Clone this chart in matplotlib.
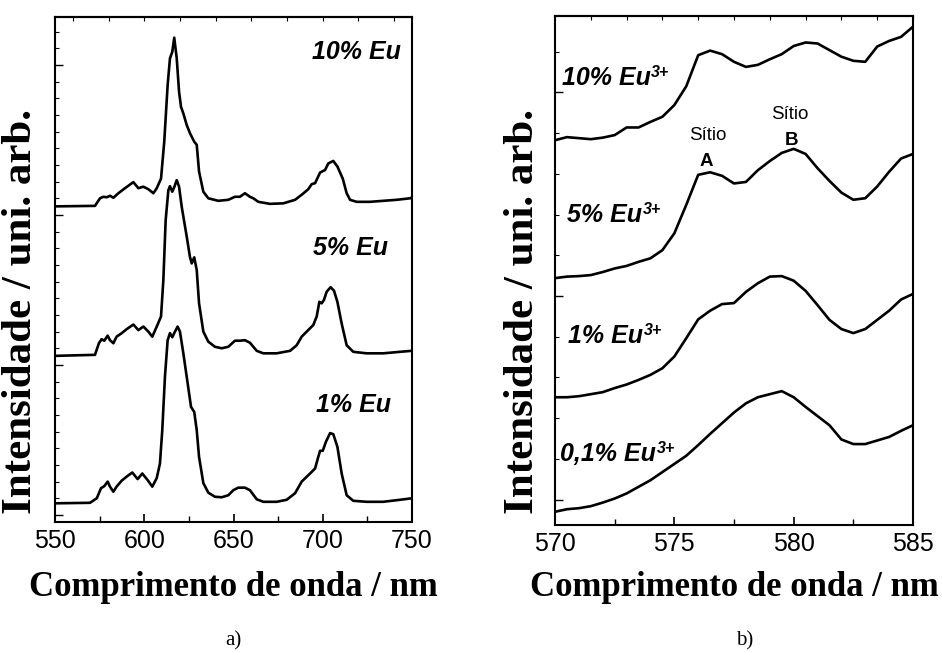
import matplotlib
matplotlib.use("Agg")
import matplotlib.pyplot as plt
from matplotlib.ticker import MultipleLocator, FixedLocator, NullFormatter

# ---------------- data: (a) full emission spectra ----------------
wl_10 = [550, 572.4, 575.2, 577.1, 579.0, 580.8, 582.7, 585.5, 589.2, 593.9, 596.7, 599.5,
         602.3, 605.1, 607.0, 609.4, 611.2, 613.1, 614.4, 615.7, 616.8, 618.2, 619.5, 620.6,
         621.9, 623.8, 625.6, 628.0, 629.4, 630.7, 633.1, 635.9, 641.5, 647.1, 650.8, 653.6,
         656.4, 659.2, 661.1, 663.9, 670.4, 677.9, 684.5, 688.2, 691.9, 693.8, 695.7, 698.5,
         701.3, 703.1, 705.9, 708.2, 711.2, 713.4, 715.3, 719.0, 726.5, 733.9, 741.4, 748.9, 750]
int_10 = [62.5, 62.6, 64.1, 64.4, 64.3, 64.6, 64.2, 65.1, 66.1, 67.3, 66.1, 66.4,
          65.9, 65.1, 66.1, 68.0, 75.3, 86.5, 91.8, 93.1, 95.9, 91.8, 85.2, 82.2,
          80.9, 78.6, 77.0, 75.3, 74.7, 69.4, 65.4, 64.1, 63.6, 63.8, 64.4, 64.4,
          65.1, 64.4, 64.1, 63.4, 63.0, 63.1, 63.8, 64.8, 65.9, 66.9, 67.1, 69.2,
          69.7, 71.0, 71.5, 70.4, 68.0, 65.1, 63.8, 63.4, 63.4, 63.6, 63.8, 64.1, 64.3]

wl_5 = [550, 572.4, 574.6, 576.1, 577.6, 579.5, 580.8, 582.7, 584.5, 587.4, 590.2, 593.9,
        596.7, 599.5, 602.3, 604.5, 607.0, 609.4, 610.7, 612.0, 613.5, 614.4, 615.7, 616.8,
        618.2, 619.5, 621.0, 623.8, 625.6, 626.6, 628.0, 629.4, 630.7, 633.1, 635.9, 639.6,
        643.4, 647.1, 650.8, 653.6, 656.4, 659.2, 663.0, 666.7, 674.2, 681.7, 685.4, 688.2,
        691.0, 694.7, 696.6, 698.1, 699.4, 700.7, 702.2, 704.4, 706.3, 708.2, 710.6, 713.4,
        717.1, 724.6, 733.9, 743.3, 750]
int_5 = [32.9, 33.1, 35.4, 36.2, 35.9, 36.9, 36.0, 35.4, 36.7, 37.4, 38.2, 39.1,
         38.0, 38.7, 37.7, 36.7, 38.7, 40.7, 47.9, 59.8, 65.7, 66.5, 65.4, 66.3,
         67.7, 66.4, 62.4, 56.5, 52.5, 51.2, 52.4, 49.9, 43.3, 37.7, 35.7, 34.7,
         34.4, 34.7, 35.9, 35.9, 36.0, 35.5, 33.9, 33.4, 33.4, 33.9, 35.0, 36.7,
         37.7, 39.0, 40.7, 43.6, 43.3, 44.0, 45.6, 46.5, 45.8, 43.6, 39.3, 35.0,
         33.7, 33.4, 33.4, 33.7, 33.9]

wl_1 = [550, 569.6, 573.4, 575.8, 577.6, 579.5, 580.8, 582.7, 584.5, 587.4, 590.2, 593.3,
        596.3, 598.9, 601.9, 604.5, 607.0, 608.8, 610.1, 611.6, 613.1, 614.4, 615.7, 617.2,
        618.7, 620.0, 621.9, 624.3, 626.2, 628.0, 629.4, 630.7, 633.1, 635.9, 639.6, 643.4,
        647.1, 649.9, 652.7, 656.4, 659.2, 663.0, 666.7, 674.2, 679.8, 684.5, 688.2, 692.9,
        695.7, 697.5, 698.5, 700.0, 701.8, 704.1, 705.9, 708.2, 710.6, 713.4, 717.1, 724.6,
        733.9, 743.3, 750]
int_1 = [3.7, 3.8, 4.7, 6.7, 7.1, 8.0, 7.0, 6.0, 7.0, 8.2, 9.0, 9.8,
         8.5, 9.6, 8.3, 7.0, 8.7, 11.6, 18.2, 28.8, 36.0, 37.4, 36.6, 37.7,
         38.7, 37.7, 33.4, 27.5, 22.8, 21.8, 18.2, 12.9, 7.7, 5.8, 5.0, 4.9,
         5.3, 6.3, 6.8, 6.8, 6.3, 4.5, 4.0, 4.0, 4.4, 5.7, 8.0, 9.6,
         10.6, 12.9, 14.1, 14.1, 15.9, 17.6, 17.4, 14.9, 9.6, 5.3, 4.2, 4.0,
         4.0, 4.4, 4.7]

labels_a = ["10% Eu", "5% Eu", "1% Eu"]

# ---------------- data: (b) 5D0 -> 7F0 region ----------------
wl_b = [570.0, 570.5, 571.0, 571.5, 572.0, 572.5, 573.0, 573.5, 574.0, 574.5, 575.0,
        575.5, 576.0, 576.5, 577.0, 577.5, 578.0, 578.5, 579.0, 579.5, 580.0, 580.5,
        581.0, 581.5, 582.0, 582.5, 583.0, 583.5, 584.0, 584.5, 585.0]
int_b_10 = [75.6, 76.2, 76.0, 75.8, 76.1, 76.6, 78.1, 78.1, 79.2, 80.2, 82.5,
            86.2, 92.3, 93.2, 92.5, 91.0, 90.0, 90.4, 91.5, 92.5, 94.1, 94.8,
            94.6, 93.3, 92.0, 91.2, 91.0, 94.0, 95.1, 95.9, 97.9]
int_b_5 = [48.5, 48.8, 48.9, 49.1, 49.7, 50.4, 50.9, 51.7, 52.4, 54.0, 57.3,
           62.9, 68.8, 69.3, 68.6, 67.1, 67.4, 69.7, 71.5, 73.1, 73.9, 72.9,
           70.1, 67.6, 65.3, 63.9, 64.2, 66.5, 69.4, 72.0, 72.9]
int_b_1 = [25.1, 25.1, 25.3, 25.7, 26.1, 26.9, 27.6, 28.5, 29.5, 30.8, 33.1,
           36.7, 40.4, 42.1, 43.4, 43.6, 45.8, 47.5, 48.8, 48.9, 48.0, 46.0,
           43.2, 40.3, 38.5, 37.7, 38.5, 40.3, 42.1, 44.3, 45.4]
int_b_01 = [2.6, 3.1, 3.3, 3.7, 4.4, 5.2, 6.2, 7.5, 8.8, 10.4, 12.0,
            13.6, 15.7, 17.9, 20.0, 22.1, 23.9, 25.1, 25.7, 26.3, 25.1, 23.2,
            21.4, 19.6, 16.8, 15.9, 15.9, 16.6, 17.3, 18.5, 19.6]
labels_b = ["10% Eu", "5% Eu", "1% Eu", "0,1% Eu"]
ion_charge = "3+"

# ---------------- styling ----------------
SANS = "Liberation Sans"
SERIF = "Liberation Serif"
LW = 1.9

fig = plt.figure(figsize=(9.42, 6.53), dpi=100)
W, H = 942, 653
ax1 = fig.add_axes([55 / W, 1 - 522 / H, 357 / W, 505 / H])
ax2 = fig.add_axes([555 / W, 1 - 525 / H, 358 / W, 509 / H])


def style_axes(ax, xlim, xmajor, xminor, top_step, ymajor, yminor, y0):
    ax.set_xlim(*xlim)
    ax.set_ylim(0, 100)
    for s in ax.spines.values():
        s.set_linewidth(1.5)
    ax.xaxis.set_major_locator(MultipleLocator(xmajor))
    ax.xaxis.set_minor_locator(MultipleLocator(xminor))
    ax.yaxis.set_major_locator(FixedLocator([y0 + ymajor * k for k in range(-1, 5)]))
    ax.yaxis.set_minor_locator(FixedLocator([y0 + yminor * k for k in range(-40, 60)]))
    ax.yaxis.set_major_formatter(NullFormatter())
    ax.tick_params(axis="x", which="major", direction="in", length=6, width=1.2,
                   labelsize=18, pad=5, top=False)
    ax.tick_params(axis="x", which="minor", direction="in", length=4, width=1.0, top=False)
    ax.tick_params(axis="y", which="major", direction="in", length=6, width=1.0,
                   left=True, right=False)
    ax.tick_params(axis="y", which="minor", direction="in", length=3, width=0.8,
                   left=True, right=False)
    for lab in ax.get_xticklabels():
        lab.set_fontfamily(SANS)
    top = ax.secondary_xaxis("top")
    top.xaxis.set_major_locator(MultipleLocator(top_step))
    top.xaxis.set_major_formatter(NullFormatter())
    top.tick_params(direction="in", length=3, width=0.8)
    top.spines["top"].set_linewidth(1.5)


# ---- panel (a)
for wl, it in [(wl_10, int_10), (wl_5, int_5), (wl_1, int_1)]:
    ax1.plot(wl, it, color="black", lw=LW, solid_joinstyle="round")
style_axes(ax1, (550, 750), 50, 25, 20, 29.7, 3.3, 1.4)

txt_kw = dict(fontfamily=SANS, fontweight="bold", fontstyle="italic", fontsize=18,
              ha="center", va="center")
ax1.text(718.6, 93.1, labels_a[0], **txt_kw)
ax1.text(715.8, 54.3, labels_a[1], **txt_kw)
ax1.text(717.5, 23.2, labels_a[2], **txt_kw)

# ---- panel (b)
for it in [int_b_10, int_b_5, int_b_1, int_b_01]:
    ax2.plot(wl_b, it, color="black", lw=LW, solid_joinstyle="round")
style_axes(ax2, (570, 585), 5, 2.5, 1.5, 40.0, 8.0, 5.0)

lab_kw = dict(fontfamily=SANS, fontweight="bold", fontstyle="italic", fontsize=18,
              ha="left", va="baseline")
conc_texts = [
    ax2.text(570.29, 86.4, labels_b[0], **lab_kw),
    ax2.text(570.50, 59.6, labels_b[1], **lab_kw),
    ax2.text(570.54, 35.7, labels_b[2], **lab_kw),
    ax2.text(570.21, 12.6, labels_b[3], **lab_kw),
]

site_kw = dict(fontfamily=SANS, fontsize=13.5, ha="center", va="center")
ax2.text(576.41, 76.6, "Sítio", **site_kw)
ax2.text(576.33, 71.5, "A", fontweight="bold", **site_kw)
ax2.text(579.85, 80.7, "Sítio", **site_kw)
ax2.text(579.93, 75.6, "B", fontweight="bold", **site_kw)

# ---- axis titles and panel letters
xl_kw = dict(fontfamily=SERIF, fontweight="bold", fontsize=25, ha="center", va="center")
fig.text(233 / W, 1 - 587 / H, "Comprimento de onda / nm", **xl_kw)
fig.text(734 / W, 1 - 587 / H, "Comprimento de onda / nm", **xl_kw)
yl_kw = dict(fontfamily=SERIF, fontweight="bold", fontsize=31, ha="center", va="center",
             rotation=90)
fig.text(21 / W, 1 - 312 / H, "Intensidade / uni. arb.", **yl_kw)
fig.text(523 / W, 1 - 312 / H, "Intensidade / uni. arb.", **yl_kw)

fig.text(233 / W, 1 - 641 / H, "a)", fontfamily=SERIF, fontsize=15, ha="center", va="center")
fig.text(745 / W, 1 - 641 / H, "b)", fontfamily=SERIF, fontsize=15, ha="center", va="center")

# ---- superscript ion charge placed right after each "Eu"
fig.canvas.draw()
renderer = fig.canvas.get_renderer()
for t in conc_texts:
    bb = t.get_window_extent(renderer)
    base_y = t.get_transform().transform(t.get_position())[1]
    fig.text((bb.x1 + 0.5) / W, (base_y + 8) / H, ion_charge, fontfamily=SANS,
             fontweight="bold", fontstyle="italic", fontsize=11.5, ha="left", va="baseline")

fig.savefig("out.png", dpi=100)
